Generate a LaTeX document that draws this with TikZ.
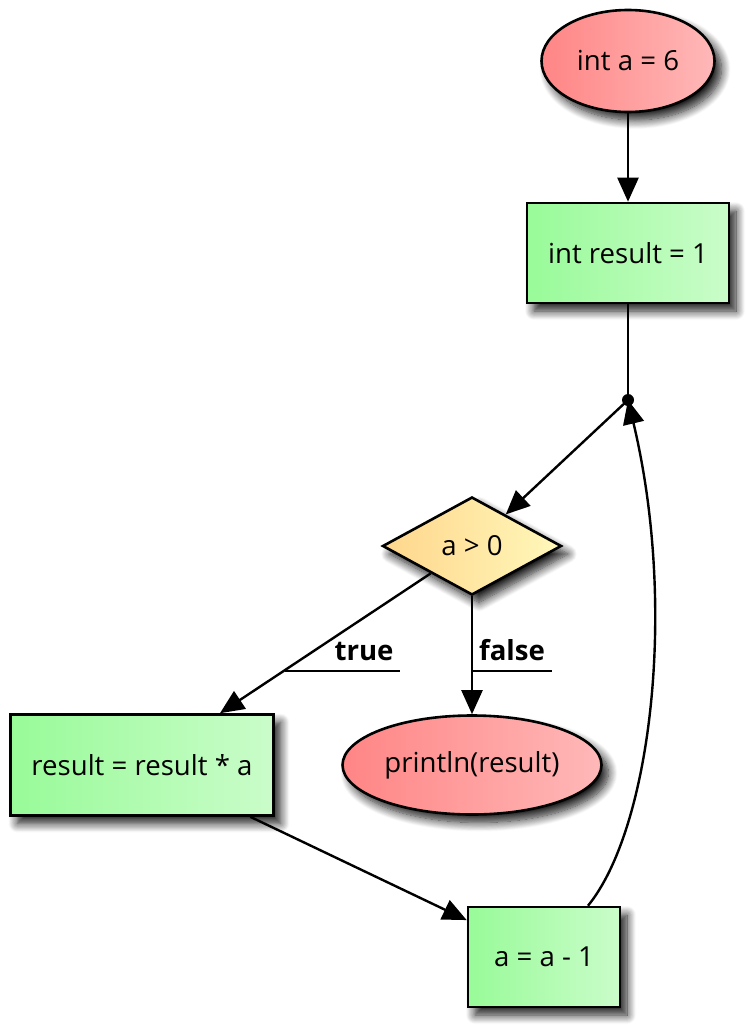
\documentclass[tikz,border=0pt]{standalone}
\usepackage{fontspec}
\setmainfont{Open Sans}
\usetikzlibrary{arrows.meta,shapes.geometric,shadows.blur,calc}
\definecolor{redL}{HTML}{FF8585}
\definecolor{redR}{HTML}{FFB8B8}
\definecolor{grnL}{HTML}{98FB98}
\definecolor{grnR}{HTML}{CAFCCA}
\definecolor{ylwL}{HTML}{FFD68C}
\definecolor{ylwR}{HTML}{FFF8BA}
\tikzset{
  base/.style={draw=black, line width=2.6pt, font=\fontsize{27.6}{32}\selectfont, inner sep=0pt,
    blur shadow={shadow xshift=7pt, shadow yshift=-8pt, shadow blur radius=9pt, shadow blur steps=12, shadow opacity=90}},
  term/.style={base, ellipse, shading=axis, shading angle=90, left color=redL, right color=redR},
  proc/.style={base, rectangle, shading=axis, shading angle=90, left color=grnL, right color=grnR},
  cond/.style={base, diamond, aspect=1.83, shading=axis, shading angle=90, left color=ylwL, right color=ylwR},
  conn/.style={line width=2.4pt, -{Triangle[length=24pt,width=21pt]}},
  plain/.style={line width=2.4pt},
  lbl/.style={font=\fontsize{27.6}{32}\selectfont\bfseries, inner sep=0pt, anchor=base},
}
\begin{document}
\begin{tikzpicture}[x=1pt,y=-1pt]
\useasboundingbox (0,0) rectangle (753,1033);
\node[term, minimum width=173pt, minimum height=102pt] (start) at (628,61) {int a = 6};
\node[proc, minimum width=202pt, minimum height=100pt] (init) at (628,253) {int result = 1};
\coordinate (dot) at (628,400);
\node[cond, minimum width=179pt, minimum height=98pt] (test) at (472,546) {a > 0};
\node[proc, minimum width=263pt, minimum height=101pt] (mul) at (142,765) {result = result * a};
\node[term, minimum width=259pt, minimum height=99pt] (out) at (472,765) {println(result)};
\node[proc, minimum width=152pt, minimum height=100pt] (dec) at (544,957) {a = a - 1};
\fill (dot) circle (6pt);
\draw[conn] (start) -- (init);
\draw[plain] (init) -- (dot);
\draw[conn] (dot) -- (test);
\draw[conn] (test) -- (mul);
\draw[conn] (test) -- (out);
\draw[conn] (mul) -- (dec);
\path (dec.north) ++(44,0) coordinate (decout);
\draw[conn] (decout) .. controls (650,830) and (678,610) .. (dot);
% labels
\node[lbl] (tl) at (364,660) {true};
\node[lbl] (fl) at (512,660) {false};
\coordinate (tlL) at (285,671);
\coordinate (tlR) at (400,671);
\coordinate (flL) at (472,671);
\coordinate (flR) at (552,671);
\draw[line width=2pt] (tlL) -- (tlR);
\draw[line width=2pt] (flL) -- (flR);
\end{tikzpicture}
\end{document}
